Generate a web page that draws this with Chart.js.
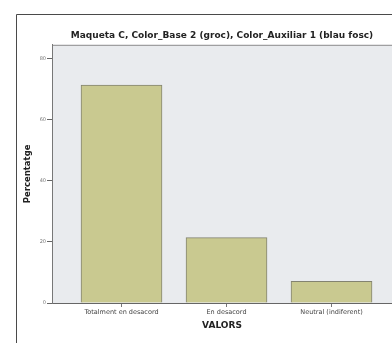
<!DOCTYPE html>
<html lang="ca">

<head>
    <meta charset="utf-8" />
    <title>Maqueta C</title>
    <style>
        html, body { margin: 0; padding: 0; background: #fff; overflow: hidden; }
        #chart { display: block; }
    </style>
</head>

<body>
    <canvas id="chart" width="392" height="343"></canvas>
    <script src="https://cdn.jsdelivr.net/npm/chart.js@4"></script>
    <script>
        // data
        const categories = ['Totalment en desacord', 'En desacord', 'Neutral (indiferent)'];
        const percentages = [71.4, 21.4, 7.1];
        const yTicks = [0, 20, 40, 60, 80];

        const chartTitle = 'Maqueta C, Color_Base 2 (groc), Color_Auxiliar 1 (blau fosc)';

        // plot background + outer frame
        const framePlugin = {
            id: 'frame',
            beforeDraw(chart) {
                const ctx = chart.ctx;
                const a = chart.chartArea;
                ctx.save();
                ctx.fillStyle = '#e9ebee';
                ctx.fillRect(a.left, a.top, a.right - a.left, a.bottom - a.top);
                ctx.strokeStyle = '#8c8c8c';
                ctx.lineWidth = 1;
                ctx.beginPath();
                ctx.moveTo(a.left + 0.5, a.bottom);
                ctx.lineTo(a.left + 0.5, a.top + 0.5);
                ctx.lineTo(a.right, a.top + 0.5);
                ctx.stroke();
                // outer box
                ctx.strokeStyle = '#4a4a4a';
                ctx.beginPath();
                ctx.moveTo(16.5, chart.height);
                ctx.lineTo(16.5, 14.5);
                ctx.lineTo(chart.width, 14.5);
                ctx.stroke();
                ctx.restore();
            }
        };

        const ctx = document.getElementById('chart');
        new Chart(ctx, {
            type: 'bar',
            data: {
                datasets: [{
                    data: percentages.map((v, i) => ({ x: i, y: v })),
                    backgroundColor: '#c9c990',
                    borderColor: '#838370',
                    borderWidth: 1,
                    borderSkipped: 'bottom',
                    barThickness: 81
                }]
            },
            options: {
                responsive: false,
                animation: false,
                layout: { padding: 0 },
                plugins: {
                    legend: { display: false },
                    tooltip: { enabled: false },
                    title: {
                        display: true,
                        text: chartTitle,
                        fullSize: false,
                        color: '#222',
                        font: { family: 'DejaVu Sans', size: 9, weight: 'bold' },
                        padding: { top: 30, bottom: 4 }
                    }
                },
                scales: {
                    x: {
                        type: 'linear',
                        offset: false,
                        min: -0.662,
                        max: 2.576,
                        afterFit: (s) => { s.height = 40; },
                        afterBuildTicks: (s) => { s.ticks = categories.map((c, i) => ({ value: i })); },
                        ticks: {
                            autoSkip: false,
                            maxRotation: 0,
                            padding: 1,
                            color: '#444',
                            font: { family: 'DejaVu Sans', size: 6.5 },
                            callback: (v) => categories[v]
                        },
                        grid: { offset: false, drawOnChartArea: false, tickLength: 4, color: '#777' },
                        border: { color: '#666' },
                        title: {
                            display: true,
                            text: 'VALORS',
                            color: '#222',
                            font: { family: 'DejaVu Sans', size: 9, weight: 'bold' },
                            padding: { top: 0, bottom: 12 }
                        }
                    },
                    y: {
                        min: 0,
                        max: 84.6,
                        afterFit: (s) => { s.width = 52; },
                        afterBuildTicks: (s) => { s.ticks = yTicks.map(v => ({ value: v })); },
                        ticks: {
                            padding: 1,
                            color: '#777',
                            font: { family: 'DejaVu Sans', size: 5 }
                        },
                        grid: { drawOnChartArea: false, tickLength: 5, color: '#666' },
                        border: { color: '#777' },
                        title: {
                            display: true,
                            text: 'Percentatge',
                            color: '#222',
                            font: { family: 'DejaVu Sans', size: 8.5, weight: 'bold' },
                            padding: { top: 23, bottom: 0 }
                        }
                    }
                }
            },
            plugins: [framePlugin]
        });
    </script>
</body>

</html>
